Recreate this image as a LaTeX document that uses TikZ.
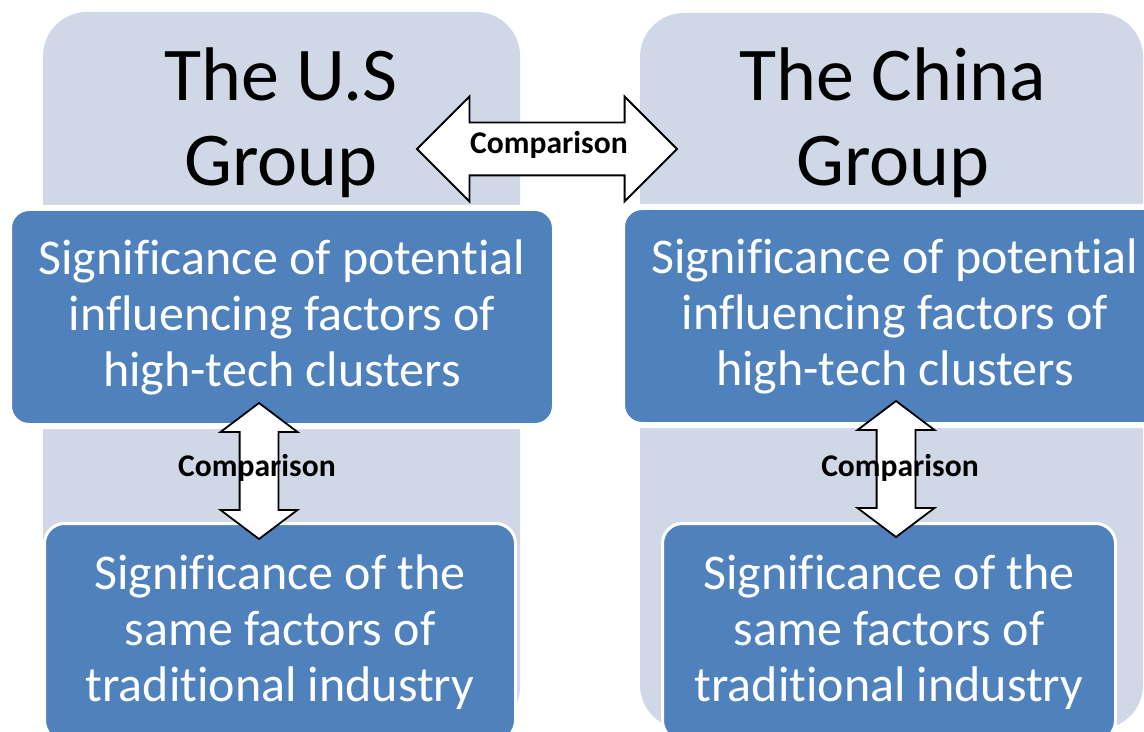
\documentclass[tikz,border=0pt]{standalone}
\usepackage{fontspec}
\setmainfont{Carlito}[Ligatures=CommonOff]
\usetikzlibrary{shapes.arrows}
\definecolor{lightgroup}{RGB}{208,216,232}
\definecolor{factorblue}{RGB}{79,129,189}
\tikzset{
  grouptitle/.style={align=center, font=\fontsize{38}{42.5}\selectfont},
  factor/.style={draw=white, fill=factorblue, rounded corners=10pt, align=center, text=white, font=\fontsize{25}{28}\selectfont},
  cmparrow/.style={double arrow, draw=black, fill=white, line width=0.9pt, inner xsep=0pt},
  cmplabel/.style={font=\fontsize{15.8}{18}\selectfont\bfseries},
}
\begin{document}
\begin{tikzpicture}[x=0.5pt, y=-0.5pt]
      \clip (0,0) rectangle (1144,732);
      \fill[lightgroup, rounded corners=22pt] (43,12) rectangle (520,731);
      \fill[lightgroup, rounded corners=22pt] (640,13) rectangle (1143,729);

      \node[grouptitle] at (281,123) (us) {The U.S\\Group};
      \node[grouptitle] at (893,123) (cn) {The China\\Group};

      \node[factor, line width=3pt, minimum width=273pt, minimum height=109pt] at (282,317) (us_hightech) {Significance of potential\\influencing factors of\\high-tech clusters};
      \node[factor, line width=3pt, minimum width=273pt, minimum height=109pt] at (895,316) (cn_hightech) {Significance of potential\\influencing factors of\\high-tech clusters};

      \node[factor, line width=1.5pt, minimum width=235.5pt, minimum height=108.5pt] at (280,632) (us_trad) {Significance of the\\same factors of\\traditional industry};
      \node[factor, line width=1.5pt, minimum width=226.5pt, minimum height=108.5pt] at (889,632) (cn_trad) {Significance of the\\same factors of\\traditional industry};

      \node[cmparrow, inner ysep=12.75pt, double arrow head extend=13pt, double arrow tip angle=90, minimum height=130pt] at (547,149) (us_cn) {};
      \node[cmparrow, rotate=90, inner ysep=9.25pt, double arrow head extend=9.5pt, double arrow tip angle=106, minimum height=68pt] at (259,471) (us_cmp) {};
      \node[cmparrow, rotate=90, inner ysep=9.25pt, double arrow head extend=9.5pt, double arrow tip angle=106, minimum height=68pt] at (896,469) (cn_cmp) {};

      \node[cmplabel] at (549,145) (us_cn_label) {Comparison};
      \node[cmplabel] at (257,468) (us_cmp_label) {Comparison};
      \node[cmplabel] at (900,468) (cn_cmp_label) {Comparison};
\end{tikzpicture}
\end{document}
